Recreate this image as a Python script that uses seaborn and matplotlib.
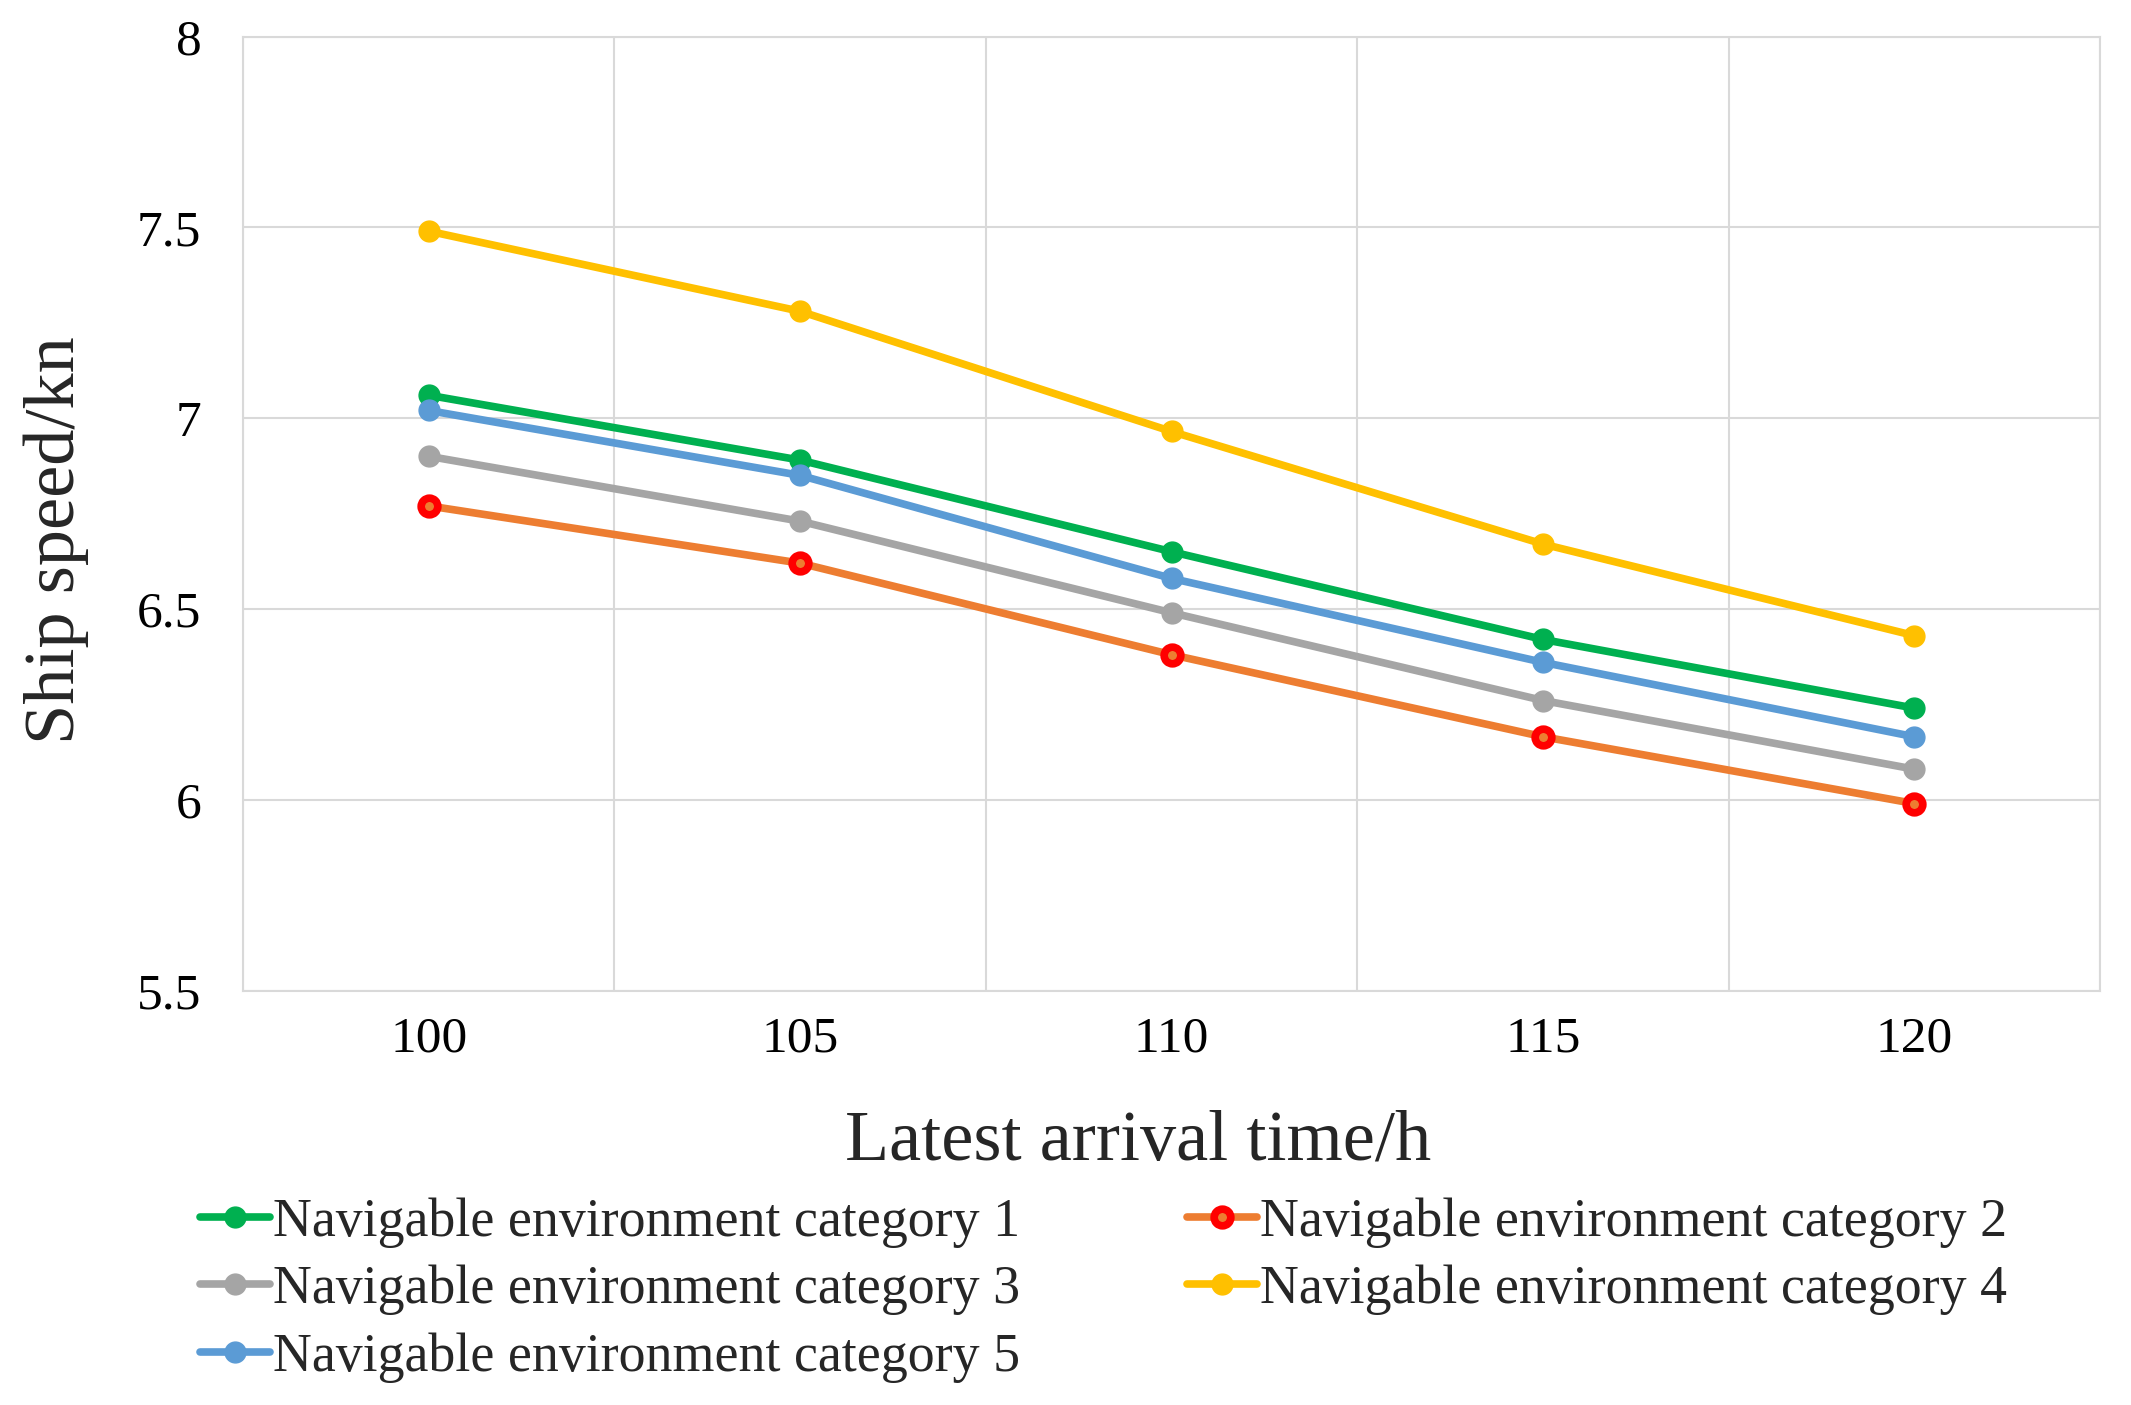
import matplotlib
matplotlib.use("Agg")
import matplotlib.pyplot as plt
import seaborn as sns
import pandas as pd
import numpy as np

times = [100, 105, 110, 115, 120]
cat1 = [7.06, 6.89, 6.65, 6.42, 6.24]
cat2 = [6.77, 6.62, 6.38, 6.165, 5.99]
cat3 = [6.90, 6.73, 6.49, 6.26, 6.08]
cat4 = [7.49, 7.28, 6.965, 6.67, 6.43]
cat5 = [7.02, 6.85, 6.58, 6.36, 6.165]
names = ["Navigable environment category 1", "Navigable environment category 2",
         "Navigable environment category 3", "Navigable environment category 4",
         "Navigable environment category 5"]
colors = ["#00B050", "#ED7D31", "#A5A5A5", "#FFC000", "#5B9BD5"]
yticks = [5.5, 6, 6.5, 7, 7.5, 8]

sns.set_style("white")
plt.rcParams["font.family"] = ["Liberation Serif", "DejaVu Serif"]

fig = plt.figure(figsize=(21.31, 14.05), dpi=100)
ax = fig.add_axes([0.114, 0.295, 0.8715, 0.679])

series = [cat1, cat2, cat3, cat4, cat5]
handles = []
for name, vals, col in zip(names, series, colors):
    df = pd.DataFrame({"t": times, "v": vals})
    if col == "#ED7D31":
        mfc, mec, ms, mew = "#ED7D31", "#FF0000", 12, 5.5
    else:
        mfc, mec, ms, mew = col, col, 15, 1
    sns.lineplot(data=df, x="t", y="v", ax=ax, color=col, linewidth=5.5,
                 marker="o", markersize=ms, markerfacecolor=mfc,
                 markeredgecolor=mec, markeredgewidth=mew, label=name)
    handles.append(ax.lines[-1])

ax.set_xlim(97.5, 122.5)
ax.set_ylim(5.5, 8)
ax.set_xticks(times)
ax.set_xticklabels([str(t) for t in times])
ax.set_xticks(np.arange(97.5, 123, 5), minor=True)
ax.set_yticks(yticks)
ax.set_yticklabels(["5.5", "6", "6.5", "7", "7.5", "8"])
ax.grid(False)
ax.grid(axis="x", which="minor", color="#D9D9D9", linewidth=1.5)
ax.grid(axis="y", which="major", color="#D9D9D9", linewidth=1.5)
ax.tick_params(axis="both", which="both", length=0, labelsize=37, colors="black")
ax.tick_params(axis="x", pad=18)
ax.tick_params(axis="y", pad=30)
for s in ax.spines.values():
    s.set_color("#D9D9D9")
    s.set_linewidth(1.5)

ax.set_xlabel("Latest arrival time/h", fontsize=52)
ax.set_ylabel("Ship speed/kn", fontsize=52)
ax.xaxis.set_label_coords(0.482, -0.125)
ax.yaxis.set_label_coords(-0.083, 0.472)

if ax.legend_:
    ax.legend_.remove()
order = [0, 2, 4, 1, 3]
fig.legend([handles[i] for i in order], [names[i] for i in order],
           ncol=2, loc="upper left", bbox_to_anchor=(0.094, 0.148),
           frameon=False, fontsize=38.8, handlelength=1.3, handletextpad=0.05,
           columnspacing=3.1, labelspacing=0.32, borderpad=0, borderaxespad=0)

fig.savefig("out.png", dpi=100)
